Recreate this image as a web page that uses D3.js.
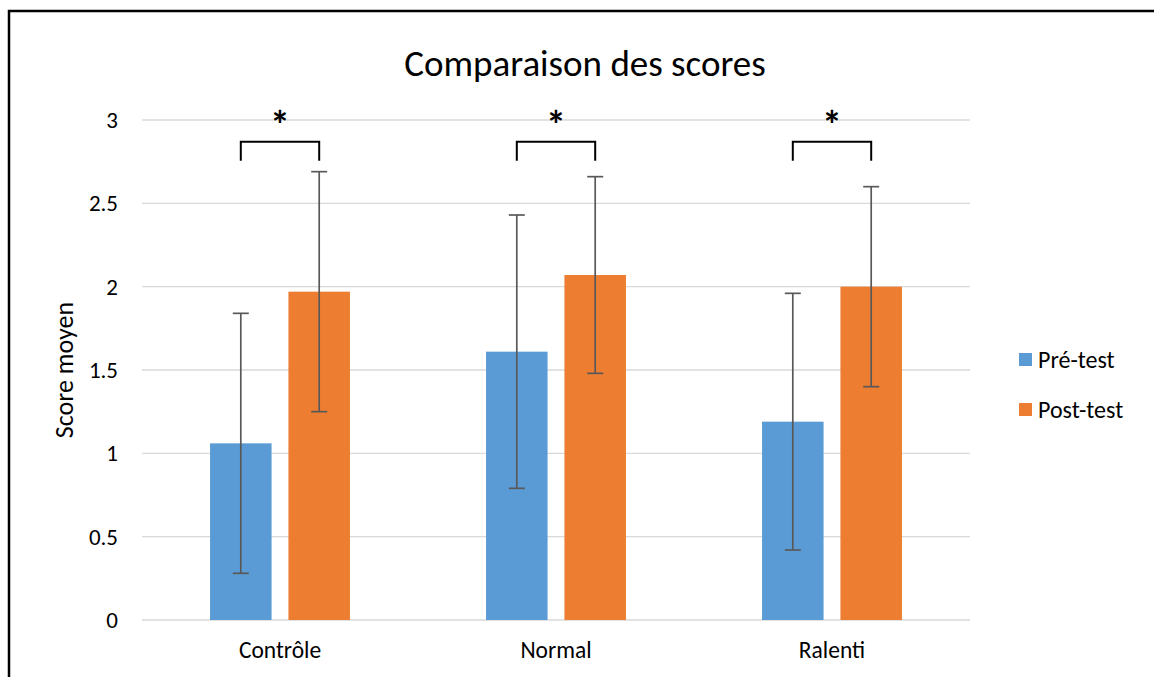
<!DOCTYPE html>
<html>
<head>
    <meta charset="utf-8">
    <script src="https://d3js.org/d3.v7.min.js"></script>
    <style>
        body { margin: 0; background: #fff; }
        svg { font-family: Carlito, Calibri, Lato, "Open Sans", sans-serif; }
    </style>
</head>
<body>
    <svg></svg>
    <script>
        // data
        const categories = ['Contrôle', 'Normal', 'Ralenti']
        const series = ['Pré-test', 'Post-test']
        const preMeans = [1.06, 1.61, 1.19]
        const preLow = [0.28, 0.79, 0.42]
        const preHigh = [1.84, 2.43, 1.96]
        const postMeans = [1.97, 2.07, 2.00]
        const postLow = [1.25, 1.48, 1.40]
        const postHigh = [2.69, 2.66, 2.60]
        const yTicks = [0, 0.5, 1, 1.5, 2, 2.5, 3]
        const significance = ['*', '*', '*']

        const colors = ['#5B9BD5', '#ED7D31']

        const width = 1154,
              height = 677

        const svg = d3.select('svg')
            .attr('width', width)
            .attr('height', height)

        // outer frame (left + top edges visible in the original)
        svg.append('path')
            .attr('d', 'M9,' + height + 'V11H' + width)
            .attr('fill', 'none')
            .attr('stroke', '#000')
            .attr('stroke-width', 2.5)

        const x0 = d3.scaleBand()
            .domain(categories)
            .range([142, 970])
            .paddingInner(0.493)
            .paddingOuter(0.2465)

        const x1 = d3.scaleBand()
            .domain(series)
            .range([0, x0.bandwidth()])
            .paddingInner(0.215)

        const y = d3.scaleLinear()
            .domain([0, 3])
            .range([620, 120])

        // gridlines
        svg.append('g')
            .selectAll('line')
            .data(yTicks)
            .enter().append('line')
            .attr('x1', 142)
            .attr('x2', 970)
            .attr('y1', d => y(d))
            .attr('y2', d => y(d))
            .attr('stroke', '#d9d9d9')
            .attr('stroke-width', 1.3)

        // y tick labels
        svg.append('g')
            .selectAll('text')
            .data(yTicks)
            .enter().append('text')
            .attr('x', 118)
            .attr('y', d => y(d))
            .attr('dy', '0.35em')
            .attr('text-anchor', 'end')
            .attr('font-size', 23)
            .attr('fill', '#000')
            .text(d => d)

        // x tick labels
        svg.append('g')
            .selectAll('text')
            .data(categories)
            .enter().append('text')
            .attr('x', d => x0(d) + x0.bandwidth() / 2)
            .attr('y', 658)
            .attr('text-anchor', 'middle')
            .attr('font-size', 23.5)
            .attr('fill', '#000')
            .text(d => d)

        const rows = []
        categories.forEach((c, i) => {
            rows.push({cat: c, s: series[0], v: preMeans[i], lo: preLow[i], hi: preHigh[i], k: 0})
            rows.push({cat: c, s: series[1], v: postMeans[i], lo: postLow[i], hi: postHigh[i], k: 1})
        })

        // bars
        svg.append('g')
            .selectAll('rect')
            .data(rows)
            .enter().append('rect')
            .attr('x', d => x0(d.cat) + x1(d.s))
            .attr('y', d => y(d.v))
            .attr('width', x1.bandwidth())
            .attr('height', d => y(0) - y(d.v))
            .attr('fill', d => colors[d.k])

        // error bars
        const eb = svg.append('g')
            .attr('stroke', '#595959')
            .attr('stroke-width', 1.7)
        const cx = d => x0(d.cat) + x1(d.s) + x1.bandwidth() / 2
        eb.selectAll('.stem')
            .data(rows)
            .enter().append('line')
            .attr('x1', cx).attr('x2', cx)
            .attr('y1', d => y(d.lo)).attr('y2', d => y(d.hi))
        eb.selectAll('.capLo')
            .data(rows)
            .enter().append('line')
            .attr('x1', d => cx(d) - 8).attr('x2', d => cx(d) + 8)
            .attr('y1', d => y(d.lo)).attr('y2', d => y(d.lo))
        eb.selectAll('.capHi')
            .data(rows)
            .enter().append('line')
            .attr('x1', d => cx(d) - 8).attr('x2', d => cx(d) + 8)
            .attr('y1', d => y(d.hi)).attr('y2', d => y(d.hi))

        // significance brackets
        const br = svg.append('g')
        categories.forEach((c, i) => {
            const xa = x0(c) + x1(series[0]) + x1.bandwidth() / 2
            const xb = x0(c) + x1(series[1]) + x1.bandwidth() / 2
            br.append('path')
                .attr('d', 'M' + xa + ',' + y(2.755) + 'V' + y(2.87) + 'H' + xb + 'V' + y(2.755))
                .attr('fill', 'none')
                .attr('stroke', '#000')
                .attr('stroke-width', 2)
            br.append('text')
                .attr('x', (xa + xb) / 2)
                .attr('y', y(2.886))
                .attr('text-anchor', 'middle')
                .attr('font-size', 40)
                .attr('font-weight', 'bold')
                .text(significance[i])
        })

        // title
        svg.append('text')
            .attr('x', 585)
            .attr('y', 76)
            .attr('text-anchor', 'middle')
            .attr('font-size', 37)
            .attr('fill', '#000')
            .text('Comparaison des scores')

        // y axis title
        svg.append('text')
            .attr('transform', 'translate(73,370)rotate(-90)')
            .attr('text-anchor', 'middle')
            .attr('font-size', 26)
            .attr('fill', '#000')
            .text('Score moyen')

        // legend
        const lg = svg.append('g')
            .selectAll('g')
            .data(series)
            .enter().append('g')
            .attr('transform', (d, i) => 'translate(1019,' + (353 + i * 50) + ')')
        lg.append('rect')
            .attr('width', 13)
            .attr('height', 13)
            .attr('fill', (d, i) => colors[i])
        lg.append('text')
            .attr('x', 19)
            .attr('y', 7)
            .attr('dy', '0.35em')
            .attr('font-size', 24)
            .attr('fill', '#000')
            .text(d => d)
    </script>
</body>
</html>
